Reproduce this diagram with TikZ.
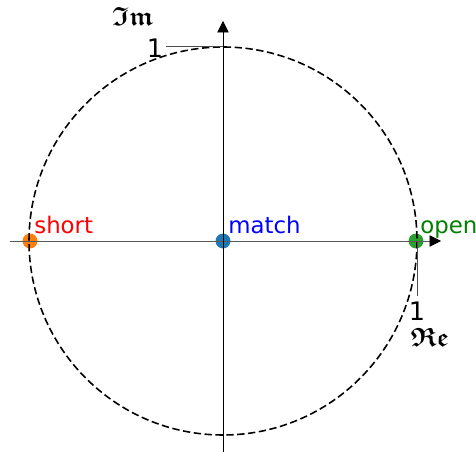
\documentclass[tikz,border=0pt]{standalone}
\usepackage{amsmath}
\usepackage{amssymb}
\usepackage{fontspec}
\setmainfont{DejaVu Sans}
\usetikzlibrary{arrows.meta,positioning}

\definecolor{dotblue}{HTML}{1F77B4}
\definecolor{dotorange}{HTML}{FF7F0E}
\definecolor{dotgreen}{HTML}{2CA02C}
\definecolor{txtgreen}{HTML}{008000}

\begin{document}
\begin{tikzpicture}[
  x=0.02cm, y=-0.02cm,
  font=\fontsize{13}{15}\selectfont,
  axis/.style={line width=0.45pt, -{Triangle[length=6.5pt,width=6.5pt,color=black]}},
  tick/.style={line width=0.4pt, draw=black!70},
  dot/.style={circle, inner sep=0pt, minimum size=8.5pt},
  lbl/.style={anchor=base west, inner sep=0pt},
  num/.style={font=\fontsize{14.5}{16}\selectfont, inner sep=0pt},
  frak/.style={font=\fontsize{15}{18}\selectfont, inner sep=0pt}
]
\useasboundingbox (0,0) rectangle (476,452);

% ---- reference points
\coordinate (O) at (223,241);
\coordinate (xl) at (10,241);
\coordinate (xr) at (441,241);
\coordinate (yb) at (223,452);
\coordinate (yt) at (223,21);

% ---- reflection points
\node[dot, fill=dotorange] (s) at (30,241) {};
\node[dot, fill=dotblue]   (m) at (223,241) {};
\node[dot, fill=dotgreen]  (o) at (416,241) {};

% ---- unit circle
\draw[dash pattern=on 4.2pt off 2pt, line width=0.9pt] (O) circle[radius=194];

% ---- axes
\draw[axis, draw=black!65] (xl) -- (xr);
\draw[axis] (yb) -- (yt);

% ---- labels
\node[lbl, text=red]      (ls) at (34,234)  {short};
\node[lbl, text=blue]     (lm) at (228,234) {match};
\node[lbl, text=txtgreen] (lo) at (420,234) {open};

% ---- unit ticks
\node[num] (one1) at (155,48) {1};
\coordinate (t0) at (166,46);
\coordinate (t1) at (223,46);
\draw[tick] (t0) -- (t1);
\node[num] (one2) at (417,311) {1};
\coordinate (t2) at (417,241);
\coordinate (t3) at (417,296);
\draw[tick] (t2) -- (t3);

% ---- axis names
\node[frak] (im) at (133,16) {$\boldsymbol{\mathfrak{Im}}$};
\node[frak] (re) at (430,337) {$\boldsymbol{\mathfrak{Re}}$};
\end{tikzpicture}
\end{document}
